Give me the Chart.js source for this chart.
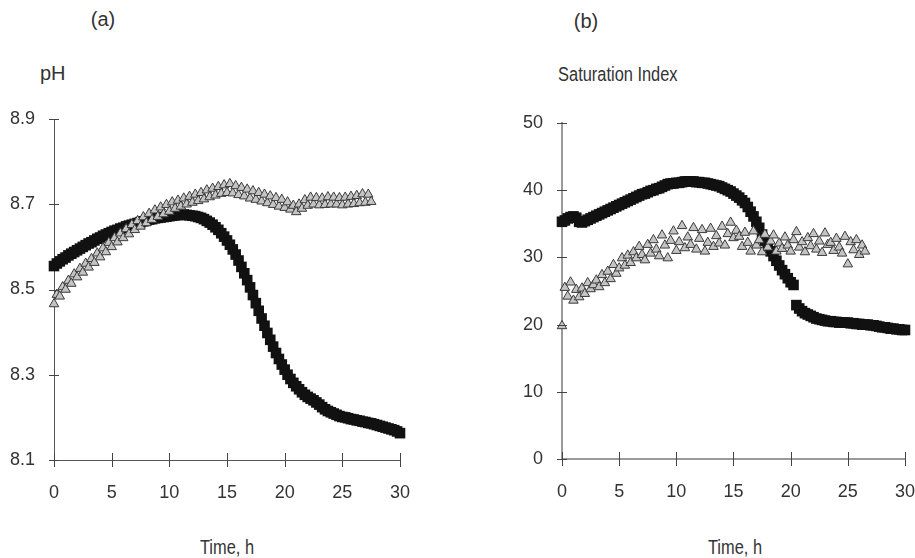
<!DOCTYPE html>
<html>
<head>
<meta charset="utf-8">
<script src="https://cdn.jsdelivr.net/npm/chart.js@4.4.1/dist/chart.umd.min.js"></script>
<style>
  html, body { margin: 0; padding: 0; background: #fff; overflow: hidden; }
  body { width: 915px; height: 558px; position: relative; color: #333; }
  canvas { position: absolute; top: 0; }
  .lbl { position: absolute; font-family: "Liberation Sans", Arial, sans-serif;
         font-size: 20px; white-space: nowrap; line-height: 1; }
  .ctr { width: 200px; text-align: center; }
  .narrow { display: inline-block; transform: scaleX(0.82); transform-origin: center; }
</style>
</head>
<body>
<div class="lbl ctr" style="left:3px; top:9px;">(a)</div>
<div class="lbl" style="left:40px; top:63px;">pH</div>
<div class="lbl ctr" style="left:127px; top:537px;"><span class="narrow">Time, h</span></div>
<div class="lbl ctr" style="left:486px; top:11px;">(b)</div>
<div class="lbl ctr" style="left:518px; top:64px;"><span class="narrow">Saturation Index</span></div>
<div class="lbl ctr" style="left:635px; top:537px;"><span class="narrow">Time, h</span></div>
<canvas id="chartA" width="460" height="558" style="left:0px;"></canvas>
<canvas id="chartB" width="480" height="558" style="left:457px;"></canvas>
<script>
// Time axis (h), one reading every quarter hour
let hours = [
  0, 0.25, 0.5, 0.75, 1, 1.25, 1.5, 1.75,
  2, 2.25, 2.5, 2.75, 3, 3.25, 3.5, 3.75,
  4, 4.25, 4.5, 4.75, 5, 5.25, 5.5, 5.75,
  6, 6.25, 6.5, 6.75, 7, 7.25, 7.5, 7.75,
  8, 8.25, 8.5, 8.75, 9, 9.25, 9.5, 9.75,
  10, 10.25, 10.5, 10.75, 11, 11.25, 11.5, 11.75,
  12, 12.25, 12.5, 12.75, 13, 13.25, 13.5, 13.75,
  14, 14.25, 14.5, 14.75, 15, 15.25, 15.5, 15.75,
  16, 16.25, 16.5, 16.75, 17, 17.25, 17.5, 17.75,
  18, 18.25, 18.5, 18.75, 19, 19.25, 19.5, 19.75,
  20, 20.25, 20.5, 20.75, 21, 21.25, 21.5, 21.75,
  22, 22.25, 22.5, 22.75, 23, 23.25, 23.5, 23.75,
  24, 24.25, 24.5, 24.75, 25, 25.25, 25.5, 25.75,
  26, 26.25, 26.5, 26.75, 27, 27.25, 27.5, 27.75,
  28, 28.25, 28.5, 28.75, 29, 29.25, 29.5, 29.75,
  30];

// (a) pH - filled squares
let phSquares = [
  8.555, 8.561, 8.566, 8.571, 8.575, 8.580, 8.584, 8.588,
  8.592, 8.596, 8.600, 8.604, 8.608, 8.611, 8.615, 8.619,
  8.622, 8.626, 8.629, 8.632, 8.635, 8.638, 8.640, 8.643,
  8.645, 8.648, 8.650, 8.652, 8.654, 8.656, 8.658, 8.660,
  8.662, 8.664, 8.665, 8.667, 8.668, 8.669, 8.670, 8.671,
  8.672, 8.673, 8.674, 8.675, 8.675, 8.676, 8.675, 8.674,
  8.673, 8.672, 8.670, 8.668, 8.665, 8.661, 8.657, 8.652,
  8.646, 8.640, 8.632, 8.624, 8.615, 8.605, 8.594, 8.582,
  8.568, 8.553, 8.538, 8.522, 8.505, 8.487, 8.468, 8.450,
  8.432, 8.415, 8.398, 8.382, 8.366, 8.351, 8.337, 8.324,
  8.312, 8.300, 8.290, 8.281, 8.273, 8.266, 8.259, 8.253,
  8.248, 8.244, 8.240, 8.235, 8.230, 8.224, 8.219, 8.215,
  8.212, 8.209, 8.206, 8.203, 8.201, 8.200, 8.198, 8.196,
  8.195, 8.193, 8.192, 8.190, 8.189, 8.187, 8.186, 8.184,
  8.182, 8.180, 8.178, 8.176, 8.174, 8.172, 8.170, 8.167,
  8.163];

// (a) pH - open triangles (0 to 27.5 h)
let phTriangles = [
  8.466, 8.488, 8.484, 8.506, 8.500, 8.521, 8.514, 8.536,
  8.529, 8.549, 8.540, 8.561, 8.552, 8.572, 8.563, 8.585,
  8.576, 8.597, 8.588, 8.610, 8.600, 8.621, 8.611, 8.632,
  8.621, 8.642, 8.630, 8.652, 8.640, 8.661, 8.648, 8.670,
  8.656, 8.678, 8.664, 8.686, 8.671, 8.693, 8.677, 8.699,
  8.683, 8.705, 8.690, 8.709, 8.695, 8.714, 8.700, 8.718,
  8.704, 8.723, 8.708, 8.727, 8.712, 8.733, 8.717, 8.737,
  8.721, 8.741, 8.725, 8.745, 8.727, 8.748, 8.726, 8.743,
  8.722, 8.739, 8.719, 8.735, 8.714, 8.731, 8.711, 8.727,
  8.707, 8.723, 8.703, 8.719, 8.699, 8.715, 8.695, 8.711,
  8.692, 8.705, 8.688, 8.697, 8.682, 8.700, 8.690, 8.710,
  8.697, 8.716, 8.700, 8.715, 8.698, 8.714, 8.699, 8.717,
  8.700, 8.716, 8.700, 8.715, 8.698, 8.716, 8.700, 8.718,
  8.701, 8.720, 8.703, 8.724, 8.704, 8.723, 8.706];

// (b) saturation index - filled squares
let siSquares = [
  35.3, 35.5, 35.8, 36.0, 36.1, 35.9, 35.3, 35.2,
  35.4, 35.6, 35.8, 36.0, 36.2, 36.4, 36.6, 36.8,
  37.0, 37.2, 37.4, 37.6, 37.8, 38.0, 38.2, 38.4,
  38.6, 38.8, 39.0, 39.2, 39.4, 39.5, 39.7, 39.9,
  40.0, 40.2, 40.3, 40.5, 40.7, 40.9, 41.0, 41.0,
  41.1, 41.1, 41.2, 41.3, 41.3, 41.3, 41.3, 41.2,
  41.2, 41.1, 41.1, 41.0, 40.9, 40.8, 40.7, 40.6,
  40.4, 40.2, 40.0, 39.8, 39.5, 39.2, 38.9, 38.5,
  38.1, 37.5, 36.8, 36.1, 35.3, 34.4, 33.4, 32.5,
  31.7, 30.9, 30.2, 29.5, 28.8, 28.1, 27.5, 26.9,
  26.3, 25.9, 22.9, 22.4, 22.0, 21.7, 21.5, 21.3,
  21.1, 20.9, 20.8, 20.7, 20.6, 20.5, 20.5, 20.4,
  20.4, 20.3, 20.3, 20.3, 20.3, 20.2, 20.2, 20.1,
  20.1, 20.0, 20.0, 20.0, 19.9, 19.9, 19.8, 19.7,
  19.6, 19.6, 19.5, 19.4, 19.4, 19.3, 19.3, 19.2,
  19.2];

// (b) saturation index - open triangles (0 to 26.5 h)
let siTriangles = [
  19.8, 25.5, 24.2, 26.3, 23.6, 25.2, 24.1, 25.4,
  24.6, 26.2, 25.3, 25.9, 26.6, 25.6, 27.4, 26.2,
  27.9, 26.8, 28.9, 27.6, 28.4, 29.9, 28.8, 30.3,
  29.2, 30.8, 29.9, 31.6, 30.4, 29.6, 31.9, 30.6,
  32.6, 31.2, 30.2, 33.3, 31.8, 29.9, 32.5, 33.9,
  31.0, 32.3, 34.7, 31.4, 33.0, 31.9, 34.4, 31.2,
  32.8, 34.1, 30.9, 32.2, 34.3, 31.6, 33.2, 32.1,
  34.6, 31.8, 33.5, 35.2, 32.9, 34.0, 33.1, 31.6,
  33.7, 32.2, 30.9, 33.9, 31.8, 32.6, 30.8, 33.4,
  31.5, 32.4, 33.3, 30.9, 32.1, 31.3, 33.0, 31.8,
  30.9, 32.6, 33.8, 31.5, 32.3, 30.8, 32.9, 31.7,
  33.5, 31.2, 32.4, 30.7, 33.6, 31.9, 32.2, 31.0,
  32.8, 31.5, 30.6, 33.1, 29.0, 32.3, 31.1, 32.6,
  30.4, 31.8, 30.9];

// tick labels
let timeTicks = [0, 5, 10, 15, 20, 25, 30];
let phTicks = [8.1, 8.3, 8.5, 8.7, 8.9];
let siTicks = [0, 10, 20, 30, 40, 50];

function toPoints(xs, ys) {
    return ys.map(function(v, i) { return { x: xs[i], y: v }; });
}

// small tick marks that cross the axis lines
const crossTicks = {
    id: 'crossTicks',
    afterDraw(chart, args, opts) {
        const ctx = chart.ctx;
        const xs = chart.scales.x;
        const ys = chart.scales.y;
        ctx.save();
        ctx.strokeStyle = opts.color;
        ctx.lineWidth = 1;
        ctx.beginPath();
        xs.ticks.forEach(function(t) {
            const px = Math.round(xs.getPixelForValue(t.value)) + 0.5;
            ctx.moveTo(px, xs.top - 7);
            ctx.lineTo(px, xs.top + 7);
        });
        ys.ticks.forEach(function(t) {
            const py = Math.round(ys.getPixelForValue(t.value)) + 0.5;
            ctx.moveTo(ys.right - 5, py);
            ctx.lineTo(ys.right + 5, py);
        });
        ctx.stroke();
        ctx.restore();
    }
};

const tickFont = { family: '"Liberation Sans", Arial, sans-serif', size: 18 };

function makeChart(id, squares, triangles, yTicks, yMin, yMax, pad, axisColor, axisWidth, digits) {
    let ctx = document.getElementById(id).getContext('2d');
    return new Chart(ctx, {
        type: 'scatter',
        data: {
            datasets: [{
                data: toPoints(hours, triangles),
                pointStyle: 'triangle',
                pointRadius: 5.5,
                backgroundColor: '#c4c4c4',
                borderColor: '#3a3a3a',
                borderWidth: 1,
                clip: false
            }, {
                data: toPoints(hours, squares),
                pointStyle: 'rect',
                pointRadius: 7.5,
                backgroundColor: '#111111',
                borderColor: '#111111',
                borderWidth: 0,
                clip: false
            }]
        },
        options: {
            responsive: false,
            animation: false,
            events: [],
            layout: { padding: pad },
            plugins: {
                legend: { display: false },
                tooltip: { enabled: false },
                crossTicks: { color: '#444' }
            },
            scales: {
                x: {
                    type: 'linear',
                    min: 0, max: 30,
                    afterBuildTicks: function(s) { s.ticks = timeTicks.map(function(v) { return { value: v }; }); },
                    afterFit: function(s) { s.height = 98; },
                    grid: { drawOnChartArea: false, drawTicks: false },
                    border: { display: true, color: axisColor, width: axisWidth },
                    ticks: { padding: 22, color: '#333', font: tickFont, maxRotation: 0 }
                },
                y: {
                    type: 'linear',
                    min: yMin, max: yMax,
                    afterBuildTicks: function(s) { s.ticks = yTicks.map(function(v) { return { value: v }; }); },
                    afterFit: function(s) { s.width = 54; },
                    grid: { drawOnChartArea: false, drawTicks: false },
                    border: { display: true, color: axisColor, width: axisWidth },
                    ticks: {
                        padding: 19, color: '#333', font: tickFont,
                        callback: function(v) { return v.toFixed(digits); }
                    }
                }
            }
        },
        plugins: [crossTicks]
    });
}

let chartA = makeChart('chartA', phSquares, phTriangles, phTicks, 8.1, 8.9,
    { top: 119, right: 60, left: 0, bottom: 0 }, '#555', 1, 1);
let chartB = makeChart('chartB', siSquares, siTriangles, siTicks, 0, 50,
    { top: 123, right: 29, left: 51, bottom: 1 }, '#9a9a9a', 2, 0);
</script>
</body>
</html>
